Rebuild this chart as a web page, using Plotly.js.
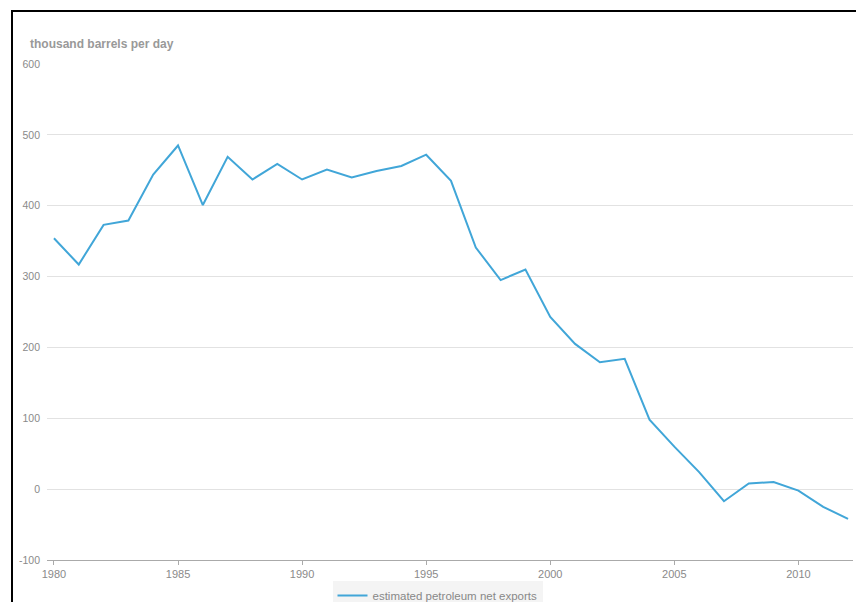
<!DOCTYPE html>
<html>
<head>
<meta charset="utf-8">
<script src="https://cdn.plot.ly/plotly-3.0.1.min.js"></script>
<style>
  html, body { margin: 0; padding: 0; background: #fff; }
  #chart { width: 856px; height: 602px; }
  #frame { position: absolute; left: 11px; top: 10px; width: 900px; height: 700px;
           border-top: 2px solid #000; border-left: 2px solid #000; pointer-events: none; }
</style>
</head>
<body>
<div id="chart"></div>
<div id="frame"></div>
<script>
const years = [1980,1981,1982,1983,1984,1985,1986,1987,1988,1989,1990,1991,1992,1993,1994,1995,1996,1997,1998,1999,2000,2001,2002,2003,2004,2005,2006,2007,2008,2009,2010,2011,2012];
const netExports = [354,317,373,379,444,485,401,469,437,459,437,451,440,449,456,472,435,341,295,310,243,205,179,184,98,60,24,-17,8,10,-2,-25,-42];
const seriesName = 'estimated petroleum net exports';
const yTicks = [-100,0,100,200,300,400,500,600];
const xTicks = [1980,1985,1990,1995,2000,2005,2010];
const unitLabel = 'thousand barrels per day';

const trace = {
  x: years, y: netExports, type: 'scatter', mode: 'lines', name: seriesName,
  line: { color: '#41a6d8', width: 2 }
};

const layout = {
  width: 856, height: 602,
  margin: { l: 47, r: 3, t: 64, b: 42, autoexpand: false },
  paper_bgcolor: '#fff', plot_bgcolor: '#fff',
  font: { family: 'Liberation Sans, Arial, sans-serif', size: 10, color: '#8a8a8a' },
  showlegend: true,
  legend: {
    orientation: 'h', x: 0.4845, xanchor: 'center', xref: 'paper',
    yref: 'container', y: 0.035, yanchor: 'top',
    bgcolor: '#f4f4f4', font: { size: 11.5, color: '#888' }
  },
  xaxis: {
    range: [1979.72, 2012.2], tickvals: xTicks, ticktext: xTicks.map(String),
    showgrid: false, zeroline: false, showline: true, linecolor: '#aaa', linewidth: 1,
    ticks: 'outside', ticklen: 4, tickcolor: '#aaa',
    tickfont: { size: 11, color: '#8a8a8a' }
  },
  yaxis: {
    range: [-100, 600], tickvals: yTicks, ticktext: yTicks.map(String),
    showgrid: true, gridcolor: '#e2e2e2', gridwidth: 1, zeroline: false,
    showline: false, ticks: '', ticklabelstandoff: 6,
    tickfont: { size: 10.5, color: '#8a8a8a' }
  },
  annotations: [{
    text: '<b>' + unitLabel + '</b>', xref: 'paper', yref: 'paper',
    x: -0.024, y: 1.04, xanchor: 'left', yanchor: 'middle', showarrow: false,
    font: { size: 12, color: '#999' }
  }]
};

Plotly.newPlot('chart', [trace], layout, { displayModeBar: false, staticPlot: true });
</script>
</body>
</html>
